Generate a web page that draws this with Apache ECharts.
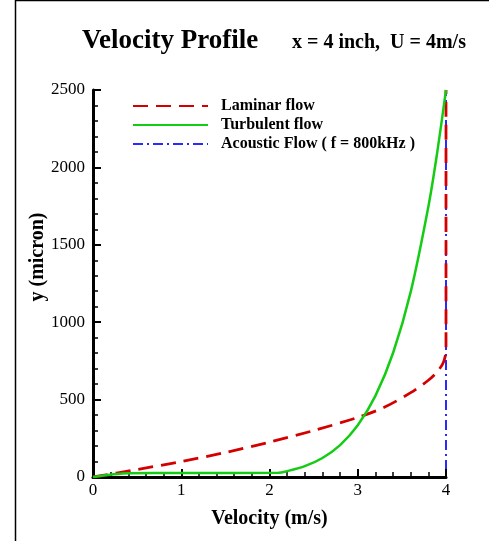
<!DOCTYPE html>
<html>
<head>
<meta charset="utf-8">
<script src="https://cdn.jsdelivr.net/npm/echarts@6/dist/echarts.min.js"></script>
<style>
  html, body { margin: 0; padding: 0; background: #fff; }
  #chart { width: 489px; height: 541px; }
</style>
</head>
<body>
<div id="chart"></div>
<script>
// values, [velocity (m/s), y (micron)]
const laminar = [
  [0, 0], [0.5, 48], [1, 100], [1.5, 158], [2, 225], [2.5, 300], [3, 385],
  [3.3, 450], [3.6, 545], [3.8, 625], [3.9, 680], [3.97, 740], [4, 820], [4, 2500]
];
const turbulent = [
  [0, 0], [0.2, 15], [0.4, 25], [1, 26], [2.1, 27], [2.2, 38], [2.4, 70],
  [2.6, 123], [2.8, 206], [3, 334], [3.2, 524], [3.4, 801], [3.6, 1196],
  [3.8, 1746], [3.9, 2095], [4, 2500]
];
const acoustic = [[0, 0], [4, 0], [4, 2500]];

const seriesNames = ['Laminar flow', 'Turbulent flow', 'Acoustic Flow ( f = 800kHz )'];
const serif = '"Liberation Serif", "DejaVu Serif", serif';

var chart = echarts.init(document.getElementById('chart'));

chart.setOption({
  animation: false,
  backgroundColor: '#fff',
  title: [
    {
      left: 77, top: 23, text: 'Velocity Profile',
      textStyle: { fontFamily: serif, fontWeight: 'bold', fontSize: 27, color: '#000' }
    },
    {
      left: 287, top: 28, text: 'x = 4 inch,  U = 4m/s',
      textStyle: { fontFamily: serif, fontWeight: 'bold', fontSize: 20, color: '#000' }
    }
  ],
  legend: {
    orient: 'vertical',
    left: 127, top: 93,
    itemWidth: 75, itemHeight: 14, itemGap: 3,
    data: seriesNames,
    itemStyle: { opacity: 0 },
    textStyle: { fontFamily: serif, fontWeight: 'bold', fontSize: 16, color: '#000', padding: [0, 0, 0, 8] }
  },
  grid: { left: 93, right: 43, top: 90, bottom: 64 },
  xAxis: {
    type: 'value', min: 0, max: 4, interval: 1, z: 2,
    name: 'Velocity (m/s)', nameLocation: 'middle', nameGap: 32,
    nameTextStyle: { fontFamily: serif, fontWeight: 'bold', fontSize: 20, color: '#000' },
    axisLine: { lineStyle: { color: '#000', width: 3 } },
    axisTick: { inside: true, length: 8, lineStyle: { color: '#000', width: 2 } },
    minorTick: { show: true, splitNumber: 5, length: 5, lineStyle: { color: '#000', width: 1.5 } },
    axisLabel: { fontFamily: serif, fontSize: 17, color: '#000', margin: 5 },
    splitLine: { show: false }
  },
  yAxis: {
    type: 'value', min: 0, max: 2500, interval: 500, z: 2,
    axisLine: { show: true, lineStyle: { color: '#000', width: 3 } },
    axisTick: { show: true, inside: true, length: 8, lineStyle: { color: '#000', width: 2 } },
    minorTick: { show: true, splitNumber: 5, length: 5, lineStyle: { color: '#000', width: 1.5 } },
    axisLabel: { fontFamily: serif, fontSize: 17, color: '#000', margin: 8, formatter: v => String(v) },
    splitLine: { show: false }
  },
  series: [
    {
      name: seriesNames[2], type: 'line', data: acoustic, symbol: 'none', z: 1,
      itemStyle: { color: '#2a2aff' },
      lineStyle: { color: '#2a2aff', width: 2, type: [10, 4, 2, 4] }
    },
    {
      name: seriesNames[0], type: 'line', data: laminar, symbol: 'none', smooth: 0.3, z: 3,
      itemStyle: { color: '#d40000' },
      lineStyle: { color: '#d40000', width: 2.8, type: [15, 8] }
    },
    {
      name: seriesNames[1], type: 'line', data: turbulent, symbol: 'none', smooth: 0.3, z: 4,
      itemStyle: { color: '#14cc14' },
      lineStyle: { color: '#14cc14', width: 2.5 }
    }
  ],
  graphic: [
    { type: 'line', shape: { x1: 15.5, y1: 0, x2: 15.5, y2: 541 }, style: { stroke: '#000', lineWidth: 1.5 } },
    { type: 'line', shape: { x1: 15, y1: 0.5, x2: 489, y2: 0.5 }, style: { stroke: '#000', lineWidth: 1.5 } },
    {
      type: 'text', x: 38, y: 257, rotation: Math.PI / 2,
      style: {
        text: 'y (micron)', font: 'bold 20px ' + serif, fill: '#000',
        align: 'center', verticalAlign: 'middle'
      }
    }
  ]
});
</script>
</body>
</html>
